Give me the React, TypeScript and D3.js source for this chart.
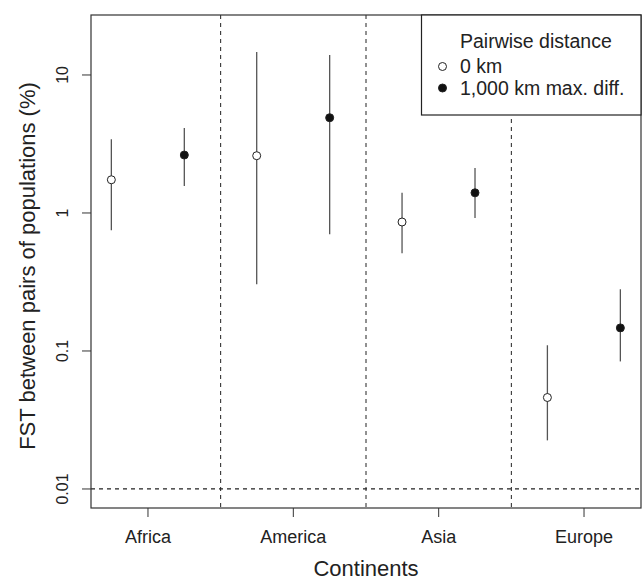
import React, { useEffect, useRef } from "react";
import * as d3 from "d3";

// values (FST %, log scale)
const continents = ["Africa", "America", "Asia", "Europe"];
const near = [1.74, 2.6, 0.86, 0.046]; // 0 km
const nearLow = [0.75, 0.305, 0.51, 0.0225];
const nearHigh = [3.42, 14.7, 1.4, 0.11];
const far = [2.63, 4.9, 1.4, 0.147]; // 1,000 km max. diff.
const farLow = [1.57, 0.7, 0.92, 0.084];
const farHigh = [4.13, 13.96, 2.12, 0.28];
const yTicks = [0.01, 0.1, 1, 10];
const yTickLabels = ["0.01", "0.1", "1", "10"];
const legendLabels = ["0 km", "1,000 km max. diff."];

const W = 643;
const H = 583;
const font = "'Liberation Sans', Arial, Helvetica, sans-serif";

const App = () => {
  const svgRef = useRef<SVGSVGElement>(null);

  useEffect(() => {
    const svg = d3.select(svgRef.current);
    svg.selectAll("*").remove();

    const left = 91, right = 641, top = 15, bottom = 508;

    const x = d3.scaleLinear().domain([0.608, 4.392]).range([left, right]);
    const y = d3
      .scaleLog()
      .domain([0.00728, 27.2])
      .range([bottom, top]);

    const g = svg.append("g");

    // separators between continents
    [1.5, 2.5, 3.5].forEach((v) => {
      g.append("line")
        .attr("x1", x(v))
        .attr("x2", x(v))
        .attr("y1", top)
        .attr("y2", bottom)
        .attr("stroke", "#222")
        .attr("stroke-width", 1)
        .attr("stroke-dasharray", "4,4");
    });

    // baseline at 0.01
    g.append("line")
      .attr("x1", left)
      .attr("x2", right)
      .attr("y1", y(0.01))
      .attr("y2", y(0.01))
      .attr("stroke", "#222")
      .attr("stroke-width", 1.2)
      .attr("stroke-dasharray", "4,4");

    // y axis
    const yAxis = g.append("g");
    yAxis
      .selectAll("line")
      .data(yTicks)
      .enter()
      .append("line")
      .attr("x1", left - 9)
      .attr("x2", left)
      .attr("y1", (d) => y(d))
      .attr("y2", (d) => y(d))
      .attr("stroke", "#333");
    yAxis
      .selectAll("text")
      .data(yTicks)
      .enter()
      .append("text")
      .attr("transform", (d) => `translate(68,${y(d)}) rotate(-90)`)
      .attr("text-anchor", "middle")
      .attr("font-family", font)
      .attr("font-size", 16)
      .attr("fill", "#222")
      .text((d, i) => yTickLabels[i]);

    // x axis
    const xAxis = g.append("g");
    continents.forEach((c, i) => {
      xAxis
        .append("line")
        .attr("x1", x(i + 1))
        .attr("x2", x(i + 1))
        .attr("y1", bottom)
        .attr("y2", bottom + 9)
        .attr("stroke", "#333");
      xAxis
        .append("text")
        .attr("x", x(i + 1))
        .attr("y", 543)
        .attr("text-anchor", "middle")
        .attr("font-family", font)
        .attr("font-size", 18)
        .attr("fill", "#222")
        .text(c);
    });

    // error bars + points
    const series = [
      { vals: near, lo: nearLow, hi: nearHigh, dx: -0.252, fill: "#fff" },
      { vals: far, lo: farLow, hi: farHigh, dx: 0.25, fill: "#111" },
    ];
    series.forEach((s) => {
      s.vals.forEach((v, i) => {
        const cx = x(i + 1 + s.dx);
        g.append("line")
          .attr("x1", cx)
          .attr("x2", cx)
          .attr("y1", y(s.lo[i]))
          .attr("y2", y(s.hi[i]))
          .attr("stroke", "#555")
          .attr("stroke-width", 1.3);
        g.append("circle")
          .attr("cx", cx)
          .attr("cy", y(v))
          .attr("r", 4)
          .attr("fill", s.fill)
          .attr("stroke", "#222")
          .attr("stroke-width", 1);
      });
    });

    // plot box
    g.append("rect")
      .attr("x", left)
      .attr("y", top)
      .attr("width", right - left)
      .attr("height", bottom - top)
      .attr("fill", "none")
      .attr("stroke", "#333")
      .attr("stroke-width", 1.2);

    // legend
    const lg = g.append("g");
    lg.append("rect")
      .attr("x", 421.5)
      .attr("y", top)
      .attr("width", right - 421.5)
      .attr("height", 100)
      .attr("fill", "#fff")
      .attr("stroke", "#222")
      .attr("stroke-width", 1.2);
    lg.append("text")
      .attr("x", 460)
      .attr("y", 48)
      .attr("font-family", font)
      .attr("font-size", 19.5)
      .attr("fill", "#222")
      .text("Pairwise distance");
    legendLabels.forEach((l, i) => {
      const ly = 66.5 + i * 21.5;
      lg.append("circle")
        .attr("cx", 442.5)
        .attr("cy", ly)
        .attr("r", 4)
        .attr("fill", i === 0 ? "#fff" : "#111")
        .attr("stroke", "#222");
      lg.append("text")
        .attr("x", 460)
        .attr("y", ly + 6.5)
        .attr("font-family", font)
        .attr("font-size", 19.5)
        .attr("fill", "#222")
        .text(l);
    });

    // axis titles
    g.append("text")
      .attr("x", 366)
      .attr("y", 576)
      .attr("text-anchor", "middle")
      .attr("font-family", font)
      .attr("font-size", 22)
      .attr("fill", "#222")
      .text("Continents");
    g.append("text")
      .attr("transform", `translate(35,266) rotate(-90)`)
      .attr("text-anchor", "middle")
      .attr("font-family", font)
      .attr("font-size", 22)
      .attr("fill", "#222")
      .text("FST between pairs of populations (%)");
  }, []);

  return (
    <svg
      ref={svgRef}
      width={W}
      height={H}
      style={{ position: "absolute", left: 0, top: 0, background: "#fff" }}
    ></svg>
  );
};

export default App;
